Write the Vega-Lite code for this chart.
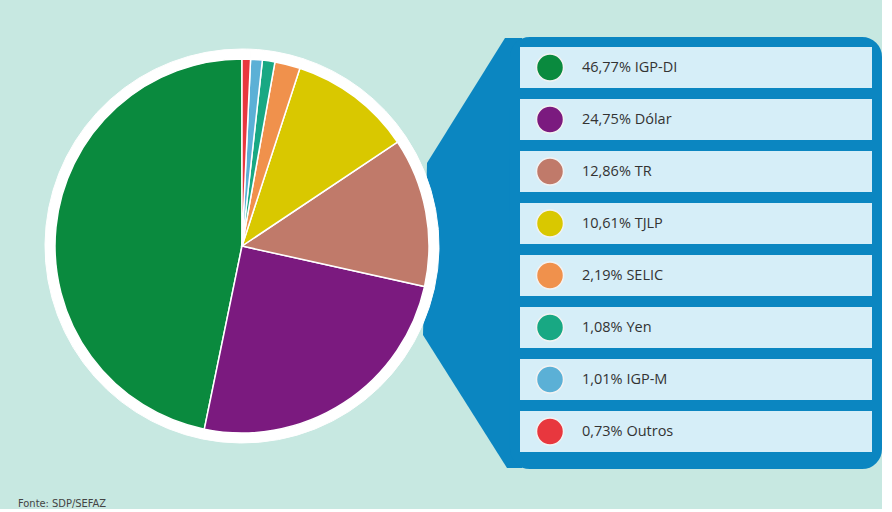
{
  "$schema": "https://vega.github.io/schema/vega-lite/v6.json",
  "background": "#c7e8e1",
  "padding": {"left": 0, "top": 37, "right": 0, "bottom": 0},
  "bounds": "flush",
  "datasets": {
    "shares": [
      {"rank": 1, "name": "IGP-DI", "share": 46.77, "label": "46,77% IGP-DI"},
      {"rank": 2, "name": "Dólar", "share": 24.75, "label": "24,75% Dólar"},
      {"rank": 3, "name": "TR", "share": 12.86, "label": "12,86% TR"},
      {"rank": 4, "name": "TJLP", "share": 10.61, "label": "10,61% TJLP"},
      {"rank": 5, "name": "SELIC", "share": 2.19, "label": "2,19% SELIC"},
      {"rank": 6, "name": "Yen", "share": 1.08, "label": "1,08% Yen"},
      {"rank": 7, "name": "IGP-M", "share": 1.01, "label": "1,01% IGP-M"},
      {"rank": 8, "name": "Outros", "share": 0.73, "label": "0,73% Outros"}
    ]
  },
  "title": {
    "text": "Fonte: SDP/SEFAZ",
    "orient": "bottom",
    "anchor": "start",
    "frame": "group",
    "dx": 18,
    "offset": 29,
    "font": "Liberation Sans Narrow, DejaVu Sans Condensed, sans-serif",
    "fontSize": 11,
    "fontWeight": "normal",
    "color": "#444444"
  },
  "config": {"view": {"stroke": null}, "concat": {"spacing": 36}},
  "hconcat": [
    {
      "width": 484,
      "height": 398,
      "layer": [
        {
          "data": {"values": [{"part": "connector"}]},
          "mark": {
            "type": "point",
            "shape": "M 1.85 -0.83 L 2.63 -2.08 L 2.8 -2.08 L 2.8 2.22 L 2.65 2.22 L 1.81 0.89 Z",
            "size": 40000,
            "filled": true,
            "color": "#0b86c1",
            "opacity": 1,
            "strokeWidth": 0
          },
          "encoding": {}
        },
        {
          "data": {"name": "shares"},
          "mark": {"type": "arc", "outerRadius": 197, "fill": "#ffffff", "stroke": "#ffffff", "strokeWidth": 1},
          "encoding": {
            "theta": {"field": "share", "type": "quantitative", "stack": true},
            "order": {"field": "rank", "sort": "descending"}
          }
        },
        {
          "data": {"name": "shares"},
          "mark": {"type": "arc", "outerRadius": 187, "stroke": "#ffffff", "strokeWidth": 1.5},
          "encoding": {
            "theta": {"field": "share", "type": "quantitative", "stack": true},
            "order": {"field": "rank", "sort": "descending"},
            "color": {
              "field": "name",
              "type": "nominal",
              "scale": {
                "domain": ["IGP-DI", "Dólar", "TR", "TJLP", "SELIC", "Yen", "IGP-M", "Outros"],
                "range": ["#0a8a3e", "#7b1a7f", "#c07a6a", "#d9c800", "#f0914c", "#18a883", "#5bb0d6", "#e8373e"]
              },
              "legend": null
            }
          }
        }
      ]
    },
    {
      "width": 352,
      "height": 412,
      "view": {"fill": "#0b86c1", "stroke": "#0b86c1", "strokeWidth": 20, "cornerRadius": 10},
      "data": {"name": "shares"},
      "encoding": {
        "y": {
          "field": "name",
          "type": "nominal",
          "sort": {"field": "rank"},
          "axis": null,
          "scale": {"paddingInner": 0.2115, "paddingOuter": 0.067, "align": 0}
        }
      },
      "layer": [
        {"mark": {"type": "rect", "fill": "#d6eef8"}},
        {
          "mark": {"type": "point", "filled": true, "size": 729, "x": 30, "stroke": "#f2f2f2", "strokeWidth": 1.5, "opacity": 1},
          "encoding": {
            "color": {
              "field": "name",
              "type": "nominal",
              "scale": {
                "domain": ["IGP-DI", "Dólar", "TR", "TJLP", "SELIC", "Yen", "IGP-M", "Outros"],
                "range": ["#0a8a3e", "#7b1a7f", "#c07a6a", "#d9c800", "#f0914c", "#18a883", "#5bb0d6", "#e8373e"]
              },
              "legend": null
            }
          }
        },
        {
          "mark": {"type": "text", "x": 62, "align": "left", "baseline": "middle", "font": "Open Sans", "fontSize": 14.5, "color": "#333333"},
          "encoding": {"text": {"field": "label", "type": "nominal"}}
        }
      ]
    }
  ]
}
